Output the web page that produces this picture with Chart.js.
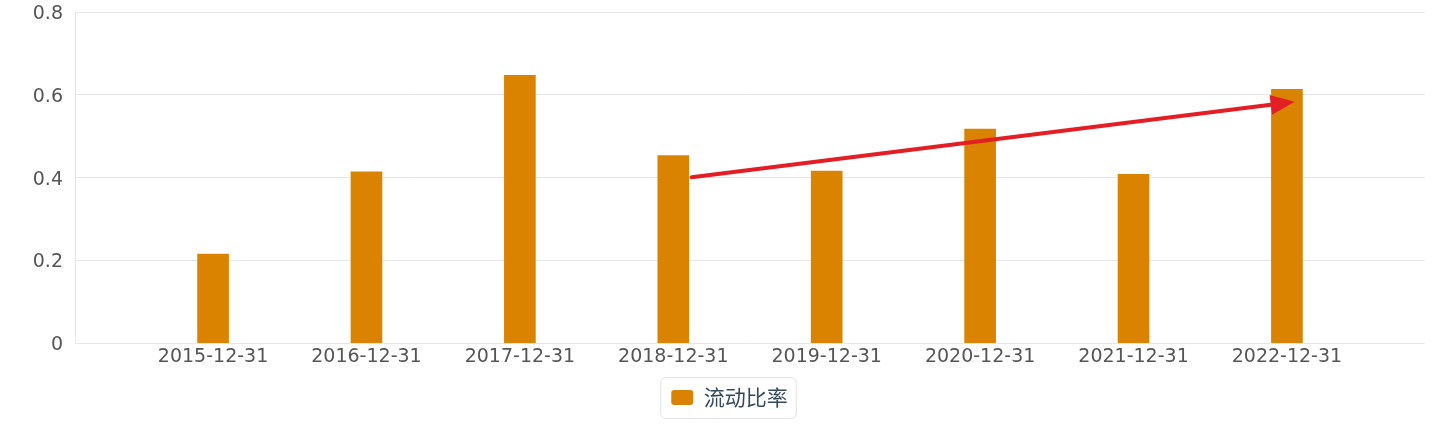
<!DOCTYPE html>
<html>
<head>
<meta charset="utf-8">
<script src="https://cdn.jsdelivr.net/npm/chart.js@4.4.0/dist/chart.umd.min.js"></script>
<style>
  html, body { margin: 0; padding: 0; background: #fff; }
  #wrap { width: 1441px; height: 426px; position: relative; }
</style>
</head>
<body>
<div id="wrap"><canvas id="ratio-chart"></canvas></div>
<script>
// data
const categories = ['2015-12-31', '2016-12-31', '2017-12-31', '2018-12-31',
                    '2019-12-31', '2020-12-31', '2021-12-31', '2022-12-31'];
const currentRatio = [0.215, 0.414, 0.647, 0.453, 0.416, 0.517, 0.408, 0.613];
const yTicks = [0, 0.2, 0.4, 0.6, 0.8];
const seriesName = '流动比率';
// red trend arrow, in data units (category index, value)
const arrowFrom = [3.12, 0.401];
const arrowTo = [7.05, 0.583];

const barColor = '#d98300';
const gridColor = '#e6e6e6';
const labelFont = { family: 'DejaVu Sans', size: 19 };

// rounded frame around the legend
const legendFrame = {
    id: 'legendFrame',
    afterDraw(chart) {
        const box = chart.legend.legendHitBoxes[0];
        if (!box) return;
        const ctx = chart.ctx;
        const x = box.left - 11, y = box.top - 10;
        const w = box.width + 19, h = box.height + 20;
        ctx.save();
        ctx.strokeStyle = '#e3e3e3';
        ctx.lineWidth = 1;
        ctx.beginPath();
        ctx.roundRect(x + 0.5, y + 0.5, w, h, 5);
        ctx.stroke();
        ctx.restore();
    }
};

// trend arrow drawn through the chart scales
const trendArrow = {
    id: 'trendArrow',
    afterDatasetsDraw(chart) {
        const xs = chart.scales.x, ys = chart.scales.y;
        const x1 = xs.getPixelForValue(arrowFrom[0]), y1 = ys.getPixelForValue(arrowFrom[1]);
        const x2 = xs.getPixelForValue(arrowTo[0]), y2 = ys.getPixelForValue(arrowTo[1]);
        const ang = Math.atan2(y2 - y1, x2 - x1);
        const headLen = 24, headHalf = 10;
        const bx = x2 - headLen * Math.cos(ang), by = y2 - headLen * Math.sin(ang);
        const ctx = chart.ctx;
        ctx.save();
        ctx.strokeStyle = '#e31e25';
        ctx.fillStyle = '#e31e25';
        ctx.lineWidth = 4;
        ctx.lineCap = 'round';
        ctx.beginPath();
        ctx.moveTo(x1, y1);
        ctx.lineTo(bx, by);
        ctx.stroke();
        ctx.beginPath();
        ctx.moveTo(x2, y2);
        ctx.lineTo(bx + headHalf * Math.sin(ang), by - headHalf * Math.cos(ang));
        ctx.lineTo(bx - headHalf * Math.sin(ang), by + headHalf * Math.cos(ang));
        ctx.closePath();
        ctx.fill();
        ctx.restore();
    }
};

document.addEventListener('DOMContentLoaded', function() {
    const ctx = document.getElementById('ratio-chart').getContext('2d');
    new Chart(ctx, {
        type: 'bar',
        data: {
            datasets: [{
                label: seriesName,
                data: currentRatio.map((v, i) => ({ x: i, y: v })),
                backgroundColor: barColor,
                borderWidth: 0,
                barThickness: 31,
                borderRadius: 0
            }]
        },
        options: {
            responsive: true,
            maintainAspectRatio: false,
            animation: false,
            layout: { padding: { top: 12, right: 16, bottom: 8, left: 34 } },
            scales: {
                x: {
                    type: 'linear',
                    offset: false,
                    min: -0.9,
                    max: categories.length - 0.1,
                    grid: { display: false, offset: false },
                    border: { display: false },
                    afterBuildTicks(scale) {
                        scale.ticks = categories.map((c, i) => ({ value: i }));
                    },
                    afterFit(scale) { scale.height += 15; },
                    ticks: {
                        autoSkip: false,
                        maxRotation: 0,
                        padding: -6,
                        color: '#555',
                        font: labelFont,
                        callback: (v) => categories[v]
                    }
                },
                y: {
                    min: 0,
                    max: 0.8,
                    afterBuildTicks(scale) {
                        scale.ticks = yTicks.map(v => ({ value: v }));
                    },
                    afterFit(scale) {
                        scale.width = 41;
                        scale.paddingTop = 0;
                        scale.paddingBottom = 0;
                    },
                    grid: { color: gridColor, drawTicks: false },
                    border: { display: true, color: gridColor },
                    ticks: {
                        padding: 12,
                        labelOffset: 2,
                        color: '#555',
                        font: labelFont,
                        callback: (v) => String(v)
                    }
                }
            },
            plugins: {
                tooltip: { enabled: false },
                legend: {
                    position: 'bottom',
                    labels: {
                        boxWidth: 22,
                        boxHeight: 15,
                        useBorderRadius: true,
                        borderRadius: 3,
                        padding: 10,
                        color: '#34495e',
                        font: { family: 'Noto Sans CJK SC', size: 21 }
                    }
                }
            }
        },
        plugins: [legendFrame, trendArrow]
    });
});
</script>
</body>
</html>
